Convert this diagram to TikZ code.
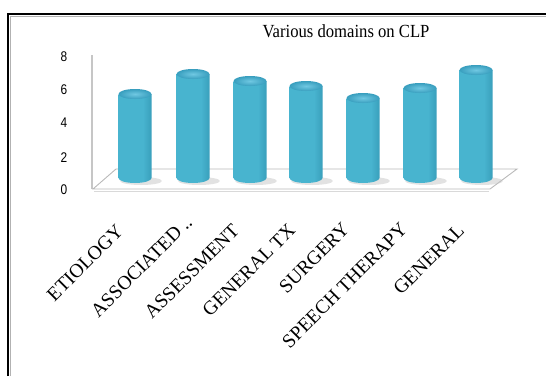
\documentclass[tikz,border=0pt]{standalone}
\usepackage{fontspec}
\setmainfont{Liberation Serif}
\newfontfamily\axisfont{Liberation Sans}
\usetikzlibrary{positioning}
\definecolor{barmid}{RGB}{72,180,207}
\definecolor{baredge}{RGB}{42,138,168}
\definecolor{bardark}{RGB}{24,104,134}
\definecolor{barcap}{RGB}{56,158,190}
\definecolor{barshine}{RGB}{112,200,226}
\pgfdeclarehorizontalshading{cylshade}{100bp}{color(0bp)=(baredge); color(22bp)=(barmid);
    color(62bp)=(barmid); color(88bp)=(baredge); color(100bp)=(bardark)}

\begin{document}
\begin{tikzpicture}[
    % GLOBAL CFG
    x=1pt, y=-1pt,
    % Styles
    frame/.style={% Outer border, only top and left are visible
        line width=2.4pt,
        black,
        },
    wall/.style={% Back wall edge
        draw=gray!45,
        line width=1.4pt,
        },
    floorline/.style={% The 3D floor
        draw=gray!55,
        line width=0.9pt,
        },
    barside/.style={% Cylinder body
        shading=cylshade,
        },
    barlid/.style={% Cylinder top
        inner color=barshine,
        outer color=barcap,
        },
    shadowblob/.style={% Soft shade on the floor
        fill=gray!45,
        opacity=.5,
        },
    ticklabel/.style={%
        font=\axisfont\fontsize{14}{14}\selectfont,
        xscale=.85,
        inner sep=0pt,
        },
    catlabel/.style={% Rotated category names
        font=\fontsize{19.5}{19.5}\selectfont,
        rotate=45,
        anchor=east,
        inner sep=0pt,
        },
    ]

    \useasboundingbox (0,0) rectangle (546,376);

    % Draw the frame
    \draw [gray!60, line width=1pt] (10,376) -- (10,16) -- (546,16);
    \draw [frame] (8,376) -- (8,14) -- (546,14);

    % Title
    \node [font=\fontsize{18.5}{18.5}\selectfont, xscale=.9] (title) at (346,31) {Various domains on CLP};

    % Axis labels named tick#
    \foreach \v/\y in {0/190,2/158,4/123,6/90,8/57}
        \node [ticklabel] (tick\v) at (64,\y) {\v};

    % Wall and floor
    \draw [wall] (92,55) -- (92,189);
    \draw [floorline] (93,189) -- (116,169) -- (517,169) -- (490,189) -- cycle;
    \draw [gray!30, line width=1pt] (94,191) -- (489,191);

    % Shadows under the bars
    \foreach \cx in {135,193,250,306,363,420,476}
        \fill [shadowblob] (\cx+6,181) ellipse [x radius=21, y radius=4];

    % Draw the bars: centre / top
    \foreach \cx/\top [count=\i] in {135/94,193/74,250/81,306/86,363/98,420/88,476/70}{
        \shade [barside] (\cx-16.5,\top) -- (\cx-16.5,178)
            arc [start angle=180, end angle=0, x radius=16.5, y radius=5]
            -- (\cx+16.5,\top) -- cycle;
        \shade [barlid] (\cx,\top) ellipse [x radius=16.5, y radius=5];
    }

    % Category labels named lbl#
    \node [catlabel] (lbl1) at (120,228) {ETIOLOGY};
    \node [catlabel] (lbl2) at (189,219) {ASSOCIATED ..};
    \node [catlabel] (lbl3) at (236,227) {ASSESSMENT};
    \node [catlabel] (lbl4) at (292,227) {GENERAL TX};
    \node [catlabel] (lbl5) at (346,226) {SURGERY};
    \node [catlabel] (lbl6) at (404,226) {SPEECH THERAPY};
    \node [catlabel] (lbl7) at (461,227) {GENERAL};

\end{tikzpicture}
\end{document}
